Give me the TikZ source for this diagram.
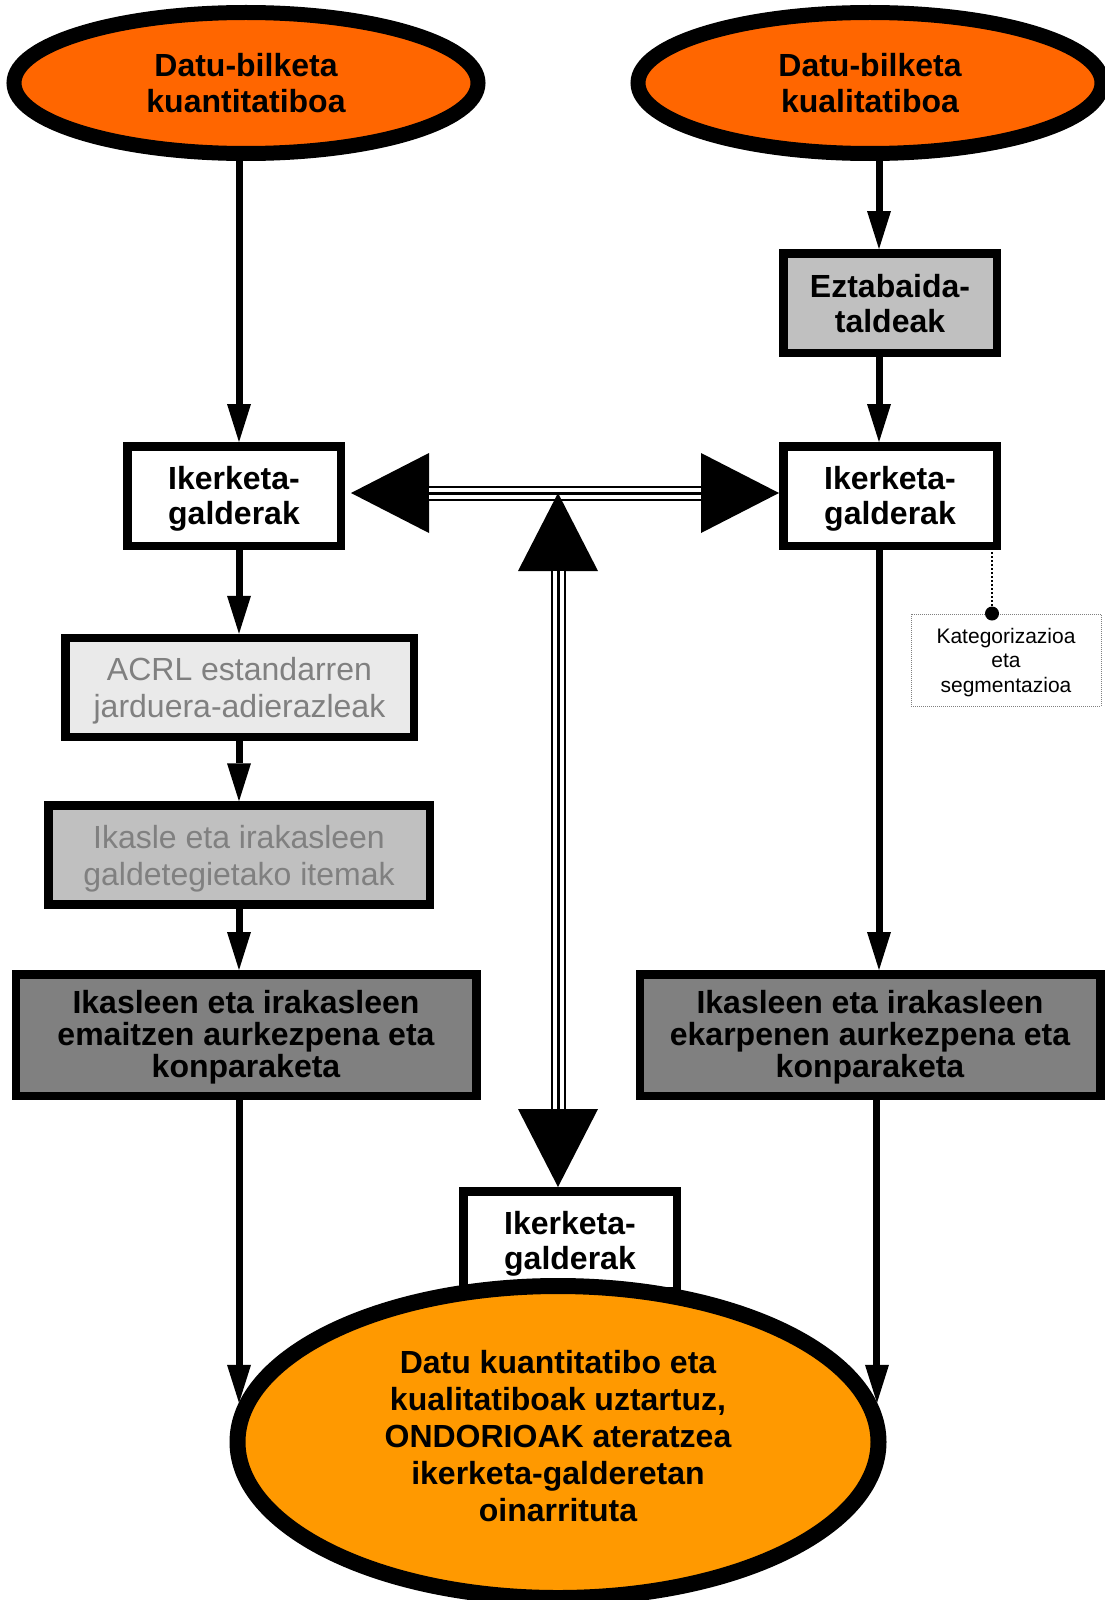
\documentclass[tikz,border=0pt]{standalone}
\usepackage{fontspec}
\setmainfont{Liberation Sans}
\usetikzlibrary{shapes.geometric,arrows.meta}

\definecolor{startorange}{HTML}{FF6600}
\definecolor{endorange}{HTML}{FF9900}
\definecolor{lightbox}{HTML}{EAEAEA}
\definecolor{midbox}{HTML}{C0C0C0}
\definecolor{darkbox}{HTML}{808080}
\definecolor{paletext}{HTML}{808080}

\begin{document}
\begin{tikzpicture}[x=1pt,y=-1pt,
	source/.style={ellipse,draw,line width=15pt,fill=startorange,inner sep=0pt,
		minimum width=464pt,minimum height=141pt,align=center,
		font=\fontsize{32}{36}\selectfont\bfseries},
	qbox/.style={rectangle,draw,line width=8.5pt,fill=white,inner sep=0pt,
		minimum width=213.5pt,minimum height=99.5pt,align=center,text depth=0.7pt,
		font=\fontsize{32}{35}\selectfont\bfseries},
	palebox/.style={qbox,text=paletext,font=\fontsize{32}{37}\selectfont,minimum height=99pt},
	resultbox/.style={qbox,fill=darkbox,minimum width=460.5pt,minimum height=121.5pt,
		text depth=2.7pt,font=\fontsize{32}{32}\selectfont\bfseries},
	arr/.style={line width=7pt,-{Triangle[length=38pt,width=24pt,line width=0pt]}},
	fatarr/.style={line width=15pt,
		{Triangle[length=78pt,width=80pt,line width=0pt]}-{Triangle[length=78pt,width=80pt,line width=0pt]}}
	]

\useasboundingbox (0,0) rectangle (1105,1600);

%Data collection
\node[source] (quant) at (246,83) {Datu-bilketa\\kuantitatiboa};
\node[source] (qual) at (870,83) {Datu-bilketa\\kualitatiboa};

%Discussion groups
\node[qbox,fill=midbox,text depth=-3pt] (ezt) at (890,303) {Eztabaida-\\taldeak};

%Research questions
\node[qbox] (lq) at (234,496) {Ikerketa-\\galderak};
\node[qbox] (rq) at (890,496) {Ikerketa-\\galderak};

%Left column
\node[palebox,fill=lightbox,minimum width=348.5pt,text depth=-0.5pt] (acrl) at (239.5,687.5) {ACRL estandarren\\jarduera-adierazleak};
\node[palebox,fill=midbox,minimum width=381.5pt,text depth=-3pt] (items) at (239,855) {Ikasle eta irakasleen\\galdetegietako itemak};
\node[resultbox] (ldark) at (246,1035) {Ikasleen eta irakasleen\\emaitzen aurkezpena eta\\konparaketa};

%Right column
\node[resultbox] (rdark) at (870,1035) {Ikasleen eta irakasleen\\ekarpenen aurkezpena eta\\konparaketa};

%Categorisation note
\node[draw=gray,densely dotted,line width=1pt,minimum width=190pt,minimum height=92pt,
	inner sep=0pt,align=center,text depth=-1.6pt,
	font=\fontsize{21}{24.5}\selectfont] (kat) at (1006,660)
	{Kategorizazioa\\eta\\segmentazioa};
\coordinate (katdot) at ([xshift=-14pt]kat.north);
\draw[line width=2pt,dash pattern=on 2pt off 2pt] (katdot) -- (katdot |- rq.south);
\fill (katdot) circle (7pt);

%Bottom question box and conclusions
\node[qbox] (bq) at (570,1241) {Ikerketa-\\galderak};
\node[ellipse,draw,line width=16pt,fill=endorange,inner sep=0pt,minimum width=641pt,
	minimum height=312pt,align=center,text depth=12pt,
	font=\fontsize{32}{37}\selectfont\bfseries] (concl) at (558,1442)
	{Datu kuantitatibo eta\\kualitatiboak uztartuz,\\ONDORIOAK ateratzea\\ikerketa-galderetan\\oinarrituta};

%Arrows on the left
\coordinate (lx) at (239,0);
\draw[arr] (quant.south -| lx) -- (lq.north -| lx);
\draw[arr] (lq.south -| lx) -- (acrl.north -| lx);
\draw[arr] (acrl.south -| lx) -- (items.north -| lx);
\draw[arr] (items.south -| lx) -- (ldark.north -| lx);
\draw[arr] (concl.173 |- ldark.south) -- (concl.173);

%Arrows on the right
\coordinate (rx) at (879,0);
\draw[arr] (qual.south -| rx) -- (ezt.north -| rx);
\draw[arr] (ezt.south -| rx) -- (rq.north -| rx);
\draw[arr] (rq.south -| rx) -- (rdark.north -| rx);
\draw[arr] (concl.7 |- rdark.south) -- (concl.7);

%Triple-lined arrows
\coordinate (hub) at (558,493);
\draw[fatarr,shorten <=6pt] (lq.east |- hub) -- (rq.west |- hub);
\draw[white,line width=11pt,shorten <=84pt,shorten >=78pt] (lq.east |- hub) -- (rq.west |- hub);
\draw[line width=3pt,shorten <=84pt,shorten >=78pt] (lq.east |- hub) -- (rq.west |- hub);

\draw[fatarr] (hub) -- (hub |- bq.north);
\draw[white,line width=11pt,shorten <=78pt,shorten >=78pt] (hub) -- (hub |- bq.north);
\draw[line width=3pt,shorten <=78pt,shorten >=78pt] (hub) -- (hub |- bq.north);

\end{tikzpicture}
\end{document}
